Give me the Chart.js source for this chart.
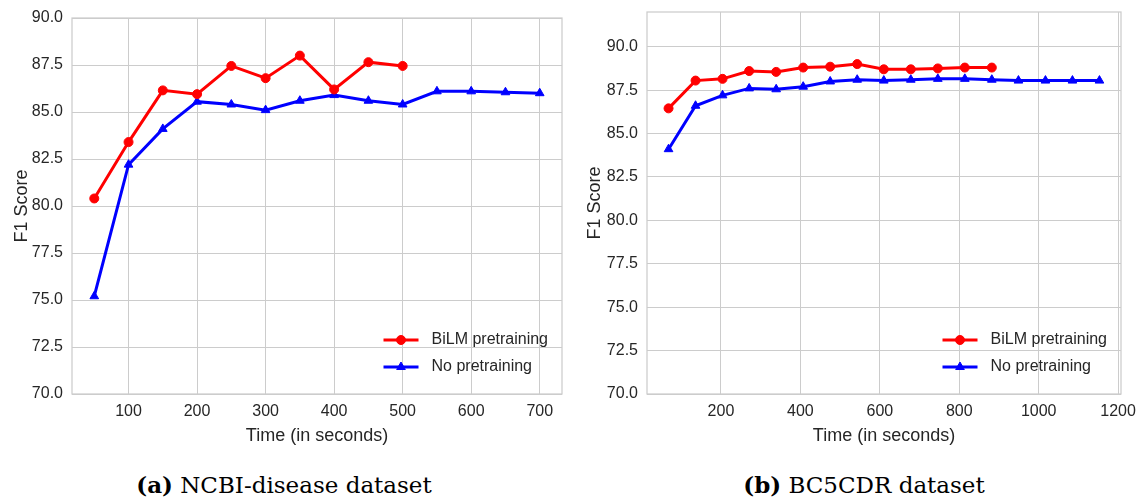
<!DOCTYPE html>
<html>
<head>
<meta charset="utf-8">
<script src="https://cdn.jsdelivr.net/npm/chart.js@4"></script>
<style>
  body { margin: 0; background: #fff; width: 1141px; height: 497px; position: relative; overflow: hidden; }
  canvas { position: absolute; top: 0; }
  #ncbi { left: 0; }
  #bc5 { left: 570px; }
  .cap { position: absolute; top: 471px; width: 560px; text-align: center;
         font-family: "DejaVu Serif", serif; font-size: 23px; color: #000; }
</style>
</head>
<body>
<canvas id="ncbi" width="570" height="450"></canvas>
<canvas id="bc5" width="571" height="450"></canvas>
<div class="cap" style="left:4px"><b>(a)</b> NCBI-disease dataset</div>
<div class="cap" style="left:584px"><b>(b)</b> BC5CDR dataset</div>
<script>
// (a) NCBI-disease
const ncbiBilmTime = [50, 100, 150, 200, 250, 300, 350, 400, 450, 500];
const ncbiBilm = [80.4, 83.4, 86.15, 85.95, 87.45, 86.8, 88.0, 86.2, 87.65, 87.45];
const ncbiNoneTime = [50, 100, 150, 200, 250, 300, 350, 400, 450, 500, 550, 600, 650, 700];
const ncbiNone = [75.2, 82.2, 84.1, 85.55, 85.4, 85.1, 85.6, 85.9, 85.6, 85.4, 86.1, 86.1, 86.05, 86.0];
const ncbiXTicks = [100, 200, 300, 400, 500, 600, 700];

// (b) BC5CDR
const bc5BilmTime = [68, 136, 204, 271, 339, 407, 475, 543, 610, 678, 746, 814, 882];
const bc5Bilm = [86.45, 88.05, 88.15, 88.6, 88.55, 88.8, 88.85, 89.0, 88.7, 88.7, 88.75, 88.8, 88.8];
const bc5NoneTime = [68, 136, 204, 271, 339, 407, 475, 543, 610, 678, 746, 814, 882, 949, 1017, 1085, 1153];
const bc5None = [84.1, 86.6, 87.2, 87.6, 87.55, 87.7, 88.0, 88.1, 88.05, 88.1, 88.15, 88.15, 88.1, 88.05, 88.05, 88.05, 88.05];
const bc5XTicks = [200, 400, 600, 800, 1000, 1200];

const yTicks = [70, 72.5, 75, 77.5, 80, 82.5, 85, 87.5, 90];

const FONT = '"Liberation Sans", Arial, sans-serif';
const TEXT = '#262626';
const GRID = '#cccccc';

Chart.defaults.font.family = FONT;
Chart.defaults.color = TEXT;

const toPoints = (xs, ys) => ys.map((y, i) => ({ x: xs[i], y: y }));

// light grey box round the plot area
const frame = {
    id: 'frame',
    beforeDatasetsDraw(chart) {
        const { ctx, chartArea: a } = chart;
        ctx.save();
        ctx.strokeStyle = GRID;
        ctx.lineWidth = 1.25;
        ctx.strokeRect(a.left, a.top, a.right - a.left, a.bottom - a.top);
        ctx.restore();
    }
};

// legend in the lower right corner, line + marker like matplotlib
const insideLegend = {
    id: 'insideLegend',
    afterDraw(chart) {
        const { ctx, chartArea: a } = chart;
        const sets = chart.data.datasets;
        ctx.save();
        ctx.font = '16px ' + FONT;
        const w = Math.max(...sets.map(d => ctx.measureText(d.label).width));
        const textX = a.right - 14 - w;
        const x1 = textX - 13, x0 = x1 - 35;
        sets.forEach((d, i) => {
            const y = a.bottom - 54 + i * 27;
            ctx.strokeStyle = d.borderColor;
            ctx.fillStyle = d.backgroundColor;
            ctx.lineWidth = 3;
            ctx.beginPath();
            ctx.moveTo(x0, y);
            ctx.lineTo(x1, y);
            ctx.stroke();
            ctx.lineWidth = 1;
            Chart.helpers.drawPoint(ctx, { pointStyle: d.pointStyle, radius: d.pointRadius, rotation: 0, borderWidth: 1 }, (x0 + x1) / 2, y);
            ctx.fillStyle = TEXT;
            ctx.textAlign = 'left';
            ctx.textBaseline = 'middle';
            ctx.fillText(d.label, textX, y);
        });
        ctx.restore();
    }
};

function makeChart(id, cfg) {
    return new Chart(document.getElementById(id), {
        type: 'line',
        data: {
            datasets: [{
                label: 'BiLM pretraining',
                data: toPoints(cfg.bilmTime, cfg.bilm),
                borderColor: '#ff0000',
                backgroundColor: '#ff0000',
                borderWidth: 3,
                pointStyle: 'circle',
                pointRadius: 4.5,
                pointBorderWidth: 1
            }, {
                label: 'No pretraining',
                data: toPoints(cfg.noneTime, cfg.none),
                borderColor: '#0000ff',
                backgroundColor: '#0000ff',
                borderWidth: 3,
                pointStyle: 'triangle',
                pointRadius: 5,
                pointBorderWidth: 1
            }]
        },
        options: {
            responsive: false,
            animation: false,
            devicePixelRatio: 1,
            layout: { padding: cfg.padding },
            plugins: { legend: { display: false }, tooltip: { enabled: false } },
            scales: {
                x: {
                    type: 'linear',
                    min: cfg.xMin,
                    max: cfg.xMax,
                    afterBuildTicks: s => { s.ticks = cfg.xTicks.map(v => ({ value: v })); },
                    afterFit: s => { s.height = 56; s.paddingLeft = 0; s.paddingRight = 0; },
                    grid: { color: GRID, lineWidth: 1, drawTicks: false },
                    border: { display: false },
                    ticks: { padding: 8, font: { size: 16 }, color: TEXT, callback: v => String(v) },
                    title: { display: true, text: 'Time (in seconds)', font: { size: 18 }, color: TEXT, padding: { top: 0, bottom: 3 } }
                },
                y: {
                    min: 70,
                    max: cfg.yMax,
                    afterBuildTicks: s => { s.ticks = yTicks.map(v => ({ value: v })); },
                    afterFit: s => { s.width = cfg.yWidth; s.paddingTop = 0; s.paddingBottom = 0; },
                    grid: { color: GRID, lineWidth: 1, drawTicks: false },
                    border: { display: false },
                    ticks: { padding: 9, font: { size: 16 }, color: TEXT, callback: v => v.toFixed(1) },
                    title: { display: true, text: 'F1 Score', font: { size: 18 }, color: TEXT, padding: { top: cfg.titlePad, bottom: 0 } }
                }
            }
        },
        plugins: [frame, insideLegend]
    });
}

makeChart('ncbi', {
    bilmTime: ncbiBilmTime, bilm: ncbiBilm, noneTime: ncbiNoneTime, none: ncbiNone,
    xTicks: ncbiXTicks, xMin: 17.5, xMax: 732.5, yMax: 90,
    yWidth: 72, titlePad: 11,
    padding: { left: 0, right: 8, top: 18, bottom: 0 }
});

makeChart('bc5', {
    bilmTime: bc5BilmTime, bilm: bc5Bilm, noneTime: bc5NoneTime, none: bc5None,
    xTicks: bc5XTicks, xMin: 13.75, xMax: 1207.25, yMax: 92,
    yWidth: 77, titlePad: 14,
    padding: { left: 0, right: 20, top: 12, bottom: 0 }
});
</script>
</body>
</html>
